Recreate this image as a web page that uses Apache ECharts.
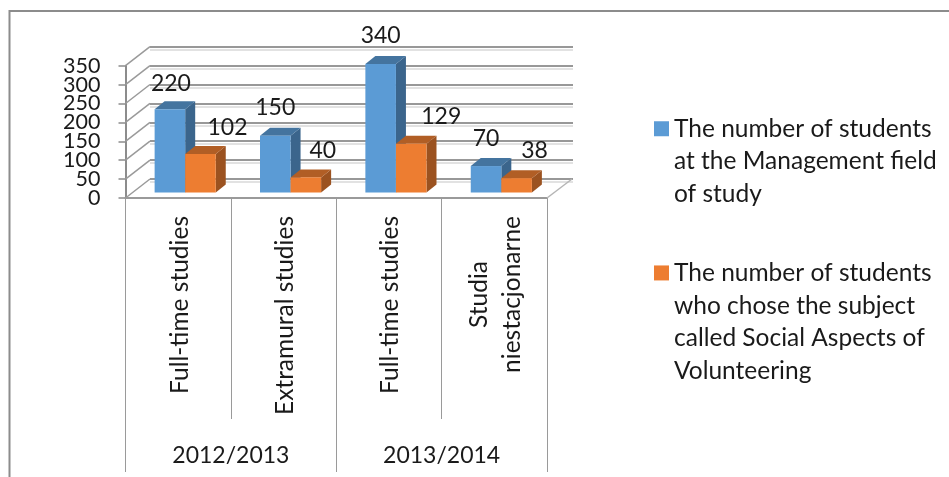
<!DOCTYPE html>
<html>
<head>
<meta charset="utf-8">
<style>
  html, body { margin: 0; padding: 0; background: #fff; }
  #chart { width: 949px; height: 477px; }
</style>
<script src="https://cdn.jsdelivr.net/npm/echarts@6/dist/echarts.min.js"></script>
</head>
<body>
<div id="chart"></div>
<script>
const categories = ['Full-time studies', 'Extramural studies', 'Full-time studies', 'Studia\nniestacjonarne'];
const years = ['2012/2013', '2013/2014'];
const managementStudents = [220, 150, 340, 70];
const volunteeringStudents = [102, 40, 129, 38];
const valueTicks = [0, 50, 100, 150, 200, 250, 300, 350];
const managementName = 'The number of students\nat the Management field\nof study';
const volunteeringName = 'The number of students\nwho chose the subject\ncalled Social Aspects of\nVolunteering';

// hand placed data labels, px from the top front corner of each bar
const managementLabelNudge = [[1, -26], [0, -28], [0, -28], [0, -27]];
const volunteeringLabelNudge = [[27, -26], [17, -27], [30, -27], [18, -28]];

const FONT = 'Lato';
const TEXT = '#1a1a1a';
const WALL = '#9a9a9a';
const GRID_LINE = '#989898';

const chart = echarts.init(document.getElementById('chart'));

// blank lines on top keep the legend square level with the first text line
function legendText(name) {
  return '\n'.repeat(name.split('\n').length - 1) + name;
}

// draws one 3d bar: front, top and side face
function bar3d(side, front, top, dark, nudge) {
  return function (params, api) {
    const i = api.value(0);
    const value = api.value(1);
    const base = api.coord([i, 0]);
    const tip = api.coord([i, value]);
    const width = api.size([1, 0])[0] * 0.29;
    const shiftX = 7, shiftY = -5.5, dx = 10, dy = -8;
    const x0 = base[0] + shiftX + (side < 0 ? -width : 0);
    const x1 = x0 + width;
    const y0 = base[1] + shiftY;
    const y1 = tip[1] + shiftY;
    const off = nudge[i];
    return {
      type: 'group',
      children: [
        { type: 'polygon', shape: { points: [[x1, y0], [x1 + dx, y0 + dy], [x1 + dx, y1 + dy], [x1, y1]] }, style: { fill: dark } },
        { type: 'polygon', shape: { points: [[x0, y1], [x0 + dx, y1 + dy], [x1 + dx, y1 + dy], [x1, y1]] }, style: { fill: top } },
        { type: 'rect', shape: { x: x0, y: y1, width: width, height: y0 - y1 }, style: { fill: front } },
        { type: 'text', z2: 50, style: { text: String(value), x: (x0 + x1) / 2 + off[0], y: y1 + off[1], align: 'center', verticalAlign: 'middle', font: '23px ' + FONT, fill: TEXT } }
      ]
    };
  };
}

const legendBase = {
  left: 654,
  icon: 'rect', itemWidth: 15, itemHeight: 15, itemGap: 0, padding: 0,
  selectedMode: false,
  formatter: legendText,
  textStyle: { fontFamily: FONT, fontSize: 24.5, color: TEXT, lineHeight: 32.7 }
};

const valueLabel = { margin: 25, padding: [6, 0, 0, 0], fontFamily: FONT, fontSize: 21.5, color: TEXT };

chart.setOption({
  backgroundColor: '#fff',
  animation: false,
  graphic: [{
    type: 'polyline',
    shape: { points: [[9.5, 477], [9.5, 11], [949, 11]] },
    style: { stroke: '#8c8c8c', lineWidth: 2, fill: null },
    silent: true
  }],
  legend: [
    Object.assign({}, legendBase, { data: [managementName], top: 47 }),
    Object.assign({}, legendBase, { data: [volunteeringName], top: 158.5 })
  ],
  grid: [
    { left: 125.5, top: 65.7, width: 421.5, height: 132.3 },
    { left: 150, top: 46.7, width: 423, height: 132.3 }
  ],
  xAxis: [
    {
      type: 'category', gridIndex: 0, data: categories,
      axisLine: { show: true, onZero: false, lineStyle: { color: WALL, width: 2 } },
      axisTick: { show: true, alignWithLabel: false, length: 221, lineStyle: { color: WALL, width: 1 } },
      axisLabel: {
        rotate: 90, align: 'right', verticalAlign: 'middle', margin: 18, padding: [3, 0, 0, 0],
        interval: 0,
        formatter: function (v) { return v.split('\n').map(function (s) { return '{a|' + s + '}'; }).join('\n'); },
        rich: { a: { align: 'center', fontFamily: FONT, fontSize: 24.5, color: TEXT, lineHeight: 33 } }
      }
    },
    {
      type: 'category', gridIndex: 0, data: years, position: 'bottom',
      axisLine: { show: false },
      axisTick: { show: true, alignWithLabel: false, length: 274, lineStyle: { color: WALL, width: 1 } },
      axisLabel: { margin: 246, interval: 0, fontFamily: FONT, fontSize: 23, color: TEXT }
    },
    { type: 'category', gridIndex: 1, show: false, data: categories }
  ],
  yAxis: [
    {
      // labels sit closer than their height, so every other one goes on the extra axis below
      type: 'value', gridIndex: 0, position: 'left', min: 0, max: 350, interval: 50,
      axisLine: { show: true, onZero: false, lineStyle: { color: '#8c8c8c', width: 2 } },
      axisTick: { show: true, length: 7, lineStyle: { color: '#8c8c8c', width: 1.5 } },
      axisLabel: Object.assign({ customValues: valueTicks.filter(function (v, i) { return i % 2 === 0; }) }, valueLabel),
      splitLine: { show: false }
    },
    {
      type: 'value', gridIndex: 1, min: 0, max: 350, interval: 50,
      axisLine: { show: false }, axisTick: { show: false }, axisLabel: { show: false },
      splitLine: { show: true, lineStyle: { color: GRID_LINE, width: 2, shadowColor: '#e2e2e2', shadowOffsetY: 3 } }
    },
    {
      type: 'value', gridIndex: 0, position: 'left', min: 0, max: 350, interval: 50,
      axisLine: { show: false }, axisTick: { show: false }, splitLine: { show: false },
      axisLabel: Object.assign({ customValues: valueTicks.filter(function (v, i) { return i % 2 === 1; }) }, valueLabel)
    }
  ],
  series: [
    {
      // diagonals on the side wall and the floor edge
      type: 'custom', xAxisIndex: 0, yAxisIndex: 0, z: 1, silent: true,
      data: valueTicks.map(function (v) { return [0, v]; }),
      renderItem: function (params, api) {
        const y = api.coord([0, api.value(1)])[1];
        const left = params.coordSys.x;
        const right = left + params.coordSys.width;
        const children = [{
          type: 'line',
          shape: { x1: left, y1: y, x2: left + 24.5, y2: y - 19 },
          style: { stroke: WALL, lineWidth: 1.5 }
        }];
        if (api.value(1) === 0) {
          children.push({
            type: 'line',
            shape: { x1: right, y1: y, x2: right + 25, y2: y - 19 },
            style: { stroke: '#b5b5b5', lineWidth: 1.5 }
          });
        }
        return { type: 'group', children: children };
      }
    },
    {
      name: managementName, type: 'custom', xAxisIndex: 0, yAxisIndex: 0, z: 3, silent: true,
      itemStyle: { color: '#5b9bd5' },
      data: managementStudents.map(function (v, i) { return [i, v]; }),
      renderItem: bar3d(-1, '#5b9bd5', '#44749f', '#3b658c', managementLabelNudge)
    },
    {
      name: volunteeringName, type: 'custom', xAxisIndex: 0, yAxisIndex: 0, z: 4, silent: true,
      itemStyle: { color: '#ed7d31' },
      data: volunteeringStudents.map(function (v, i) { return [i, v]; }),
      renderItem: bar3d(1, '#ed7d31', '#b15e25', '#9b5220', volunteeringLabelNudge)
    }
  ]
});
window.addEventListener('resize', function () { chart.resize(); });
</script>
</body>
</html>
